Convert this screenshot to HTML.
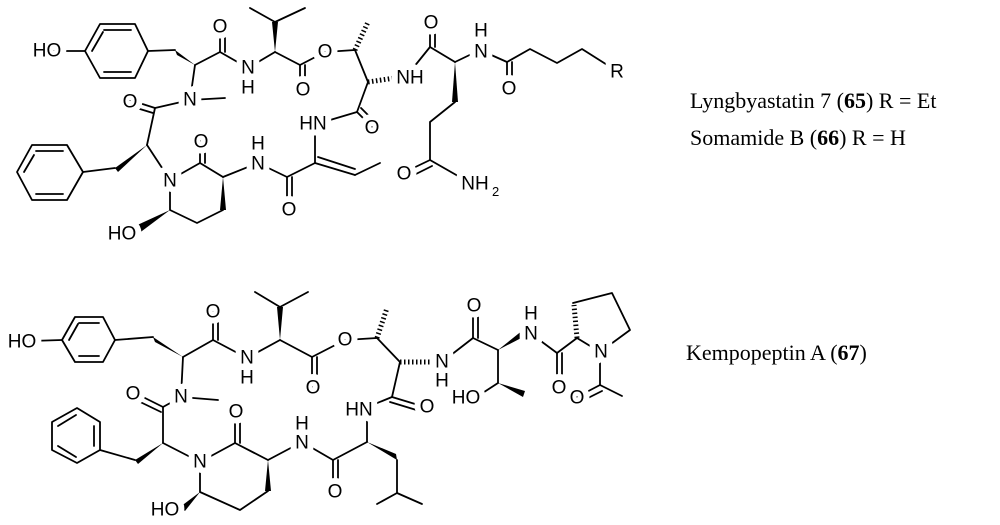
<!DOCTYPE html>
<html><head><meta charset="utf-8"><style>
html,body{margin:0;padding:0;background:#fff;}
svg{display:block;}
.b{stroke:#000;stroke-width:1.8;fill:none;stroke-linecap:round;stroke-linejoin:round;}
.h{stroke:#000;stroke-width:5;stroke-dasharray:1.5,2.5;fill:none;}
.a2{font-family:"Liberation Sans",sans-serif;font-size:13px;fill:#000;}
.t{font-family:"Liberation Serif",serif;font-size:22px;fill:#000;}
</style></head><body>
<svg width="1000" height="525" viewBox="0 0 1000 525" xmlns="http://www.w3.org/2000/svg">
<defs>
<g id="labels">
<text x="47" y="51">HO</text>
<text x="220" y="27">O</text>
<text x="248" y="68">N</text><text x="248" y="88">H</text>
<text x="303" y="90">O</text>
<text x="325" y="52">O</text>
<text x="190" y="100">N</text>
<text x="130" y="102">O</text>
<text x="170" y="181">N</text>
<text x="201" y="142">O</text>
<text x="258" y="164">N</text><text x="258" y="144">H</text>
<text x="289" y="210">O</text>
<text x="313" y="124">HN</text>
<text x="372" y="128">O</text>
<text x="410" y="78">NH</text>
<text x="431" y="23">O</text>
<text x="404" y="174">O</text>
<text x="475" y="184">NH</text>
<text x="481" y="52">N</text><text x="481" y="31">H</text>
<text x="509" y="89">O</text>
<text x="617" y="72">R</text>
<text x="122" y="234">HO</text>
<text x="22" y="342">HO</text>
<text x="213" y="312">O</text>
<text x="247" y="358">N</text><text x="247" y="378">H</text>
<text x="313" y="388">O</text>
<text x="345" y="340">O</text>
<text x="442" y="362">N</text><text x="442" y="381">H</text>
<text x="427" y="407">O</text>
<text x="359" y="410">HN</text>
<text x="335" y="492">O</text>
<text x="474" y="306">O</text>
<text x="531" y="334">N</text><text x="531" y="314">H</text>
<text x="466" y="398">HO</text>
<text x="559" y="388">O</text>
<text x="601" y="352">N</text>
<text x="577" y="398">O</text>
<text x="181" y="397">N</text>
<text x="133" y="394">O</text>
<text x="200" y="462">N</text>
<text x="236" y="412">O</text>
<text x="302" y="443">N</text><text x="302" y="424">H</text>
<text x="165" y="510">HO</text>
</g>
</defs>
<!-- ===== TOP STRUCTURE ===== -->
<g class="b">
<polygon points="85,51 100,24 135,24 148,51 135,78 100,78"/>
<polyline points="104,30 131,30"/><polyline points="104,72 131,72"/><polyline points="92,51 103,32"/>
<line x1="45" y1="51" x2="85" y2="51"/>
<line x1="148" y1="51" x2="175" y2="50"/>
<line x1="195" y1="65" x2="220" y2="52"/>
<line x1="220" y1="52" x2="220" y2="28"/><line x1="225" y1="52" x2="225" y2="30"/>
<line x1="220" y1="52" x2="248" y2="68"/>
<line x1="248" y1="68" x2="275" y2="52"/>
<line x1="275" y1="22" x2="250" y2="8"/><line x1="275" y1="22" x2="305" y2="8"/>
<line x1="275" y1="52" x2="300" y2="65"/>
<line x1="300" y1="65" x2="300" y2="90"/><line x1="305" y1="65" x2="305" y2="88"/>
<line x1="300" y1="65" x2="325" y2="52"/>
<line x1="325" y1="52" x2="355" y2="50"/>
<line x1="195" y1="65" x2="190" y2="100"/>
<line x1="190" y1="100" x2="225" y2="98"/>
<line x1="190" y1="100" x2="155" y2="108"/>
<line x1="155" y1="108" x2="130" y2="100"/><line x1="153" y1="113" x2="130" y2="106"/>
<line x1="155" y1="108" x2="147" y2="145"/>
<line x1="115" y1="168" x2="83" y2="172"/>
<polygon points="17,172 32,145 67,145 83,172 67,200 32,200"/>
<line x1="36" y1="151" x2="63" y2="151"/><line x1="36" y1="194" x2="63" y2="194"/><line x1="24" y1="172" x2="34" y2="155"/>
<line x1="147" y1="145" x2="170" y2="180"/>
<polyline points="170,180 200,163 223,177"/>
<polyline points="223,210 197,223 170,210 170,180"/>
<line x1="200" y1="163" x2="200" y2="140"/><line x1="205" y1="163" x2="205" y2="142"/>
<line x1="223" y1="177" x2="258" y2="163"/>
<line x1="258" y1="163" x2="287" y2="177"/>
<line x1="287" y1="177" x2="287" y2="208"/><line x1="292" y1="177" x2="292" y2="206"/>
<line x1="287" y1="177" x2="315" y2="163"/>
<line x1="315" y1="163" x2="315" y2="125"/>
<line x1="315" y1="163" x2="355" y2="175"/><line x1="318" y1="157" x2="355" y2="169"/>
<line x1="355" y1="175" x2="380" y2="163"/>
<line x1="320" y1="123" x2="357" y2="112"/>
<line x1="357" y1="112" x2="372" y2="127"/><line x1="361" y1="108" x2="375" y2="122"/>
<line x1="357" y1="112" x2="368" y2="82"/>
<line x1="368" y1="82" x2="355" y2="50"/>
<line x1="405" y1="78" x2="430" y2="47"/>
<line x1="430" y1="47" x2="430" y2="23"/><line x1="435" y1="47" x2="435" y2="25"/>
<line x1="430" y1="47" x2="455" y2="62"/>
<polyline points="455,102 430,122 430,160"/>
<line x1="430" y1="160" x2="405" y2="172"/><line x1="432" y1="166" x2="408" y2="178"/>
<line x1="430" y1="160" x2="465" y2="180"/>
<line x1="455" y1="62" x2="480" y2="50"/>
<line x1="480" y1="50" x2="507" y2="62"/>
<line x1="507" y1="62" x2="507" y2="88"/><line x1="512" y1="62" x2="512" y2="86"/>
<polyline points="507,62 530,49 557,63 582,49 612,68"/>
</g>
<g fill="#000">
<polygon points="175,50 195,65 177,55"/>
<polygon points="275,52 272,22 278,22"/>
<polygon points="147,145 115,168 118,172"/>
<polygon points="223,177 220,210 226,210"/>
<polygon points="170,210 133,227 138,234"/>
<polygon points="455,62 452,102 458,102"/>
</g>
<line class="h" x1="355" y1="50" x2="368" y2="22"/>
<line class="h" x1="368" y1="82" x2="395" y2="78"/>

<!-- ===== BOTTOM STRUCTURE ===== -->
<g class="b">
<line x1="30" y1="341" x2="62" y2="340"/>
<polygon points="62,340 75,317 103,317 115,340 103,362 75,362"/>
<line x1="79" y1="323" x2="99" y2="323"/><line x1="79" y1="356" x2="99" y2="356"/><line x1="69" y1="340" x2="78" y2="324"/>
<line x1="115" y1="340" x2="153" y2="337"/>
<line x1="183" y1="357" x2="213" y2="340"/>
<line x1="213" y1="340" x2="213" y2="312"/><line x1="218" y1="340" x2="218" y2="314"/>
<line x1="213" y1="340" x2="247" y2="358"/>
<line x1="247" y1="358" x2="280" y2="340"/>
<line x1="280" y1="307" x2="255" y2="292"/><line x1="280" y1="307" x2="308" y2="292"/>
<line x1="280" y1="340" x2="312" y2="357"/>
<line x1="312" y1="357" x2="312" y2="387"/><line x1="317" y1="357" x2="317" y2="385"/>
<line x1="312" y1="357" x2="345" y2="340"/>
<line x1="345" y1="340" x2="377" y2="338"/>
<line x1="377" y1="338" x2="400" y2="362"/>
<line x1="400" y1="362" x2="392" y2="397"/>
<line x1="392" y1="397" x2="425" y2="407"/><line x1="390" y1="402" x2="423" y2="412"/>
<line x1="392" y1="397" x2="360" y2="410"/>
<line x1="367" y1="410" x2="367" y2="442"/>
<line x1="367" y1="442" x2="333" y2="460"/>
<line x1="333" y1="460" x2="333" y2="490"/><line x1="338" y1="460" x2="338" y2="488"/>
<line x1="333" y1="460" x2="302" y2="442"/>
<line x1="397" y1="460" x2="397" y2="493"/>
<line x1="397" y1="493" x2="377" y2="504"/><line x1="397" y1="493" x2="422" y2="504"/>
<line x1="442" y1="362" x2="473" y2="338"/>
<line x1="473" y1="338" x2="473" y2="307"/><line x1="478" y1="338" x2="478" y2="309"/>
<line x1="473" y1="338" x2="498" y2="350"/>
<line x1="498" y1="350" x2="498" y2="383"/>
<line x1="498" y1="383" x2="478" y2="396"/>
<line x1="530" y1="333" x2="557" y2="353"/>
<line x1="557" y1="353" x2="557" y2="387"/><line x1="562" y1="353" x2="562" y2="385"/>
<line x1="557" y1="353" x2="577" y2="338"/>
<polyline points="573,303 612,293 630,330 600,352 577,338"/>
<line x1="600" y1="352" x2="600" y2="385"/>
<line x1="600" y1="385" x2="577" y2="397"/><line x1="602" y1="391" x2="580" y2="402"/>
<line x1="600" y1="385" x2="622" y2="396"/>
<line x1="183" y1="357" x2="181" y2="397"/>
<line x1="181" y1="397" x2="218" y2="400"/>
<line x1="181" y1="397" x2="163" y2="407"/>
<line x1="163" y1="407" x2="135" y2="393"/><line x1="161" y1="412" x2="134" y2="399"/>
<line x1="163" y1="407" x2="163" y2="443"/>
<line x1="135" y1="460" x2="100" y2="450"/>
<polygon points="77,408 100,422 100,450 77,463 52,450 52,422"/>
<line x1="94" y1="426" x2="94" y2="446"/><line x1="58" y1="426" x2="76" y2="415"/><line x1="58" y1="446" x2="76" y2="457"/>
<line x1="163" y1="443" x2="200" y2="462"/>
<polyline points="200,462 235,443 268,460"/>
<polyline points="268,491 240,510 200,492 200,462"/>
<line x1="235" y1="443" x2="235" y2="413"/><line x1="240" y1="443" x2="240" y2="415"/>
<line x1="268" y1="460" x2="302" y2="442"/>
</g>
<g fill="#000">
<polygon points="153,337 183,357 155,342"/>
<polygon points="280,340 277,307 283,307"/>
<polygon points="367,442 397,460 396,454"/>
<polygon points="498,350 527,335 523,330"/>
<polygon points="498,383 523,397 525,391"/>
<polygon points="163,443 135,460 138,464"/>
<polygon points="268,460 265,491 271,491"/>
<polygon points="200,492 180,507 185,511"/>
</g>
<line class="h" x1="377" y1="338" x2="387" y2="308"/>
<line class="h" x1="400" y1="362" x2="433" y2="362"/>
<line class="h" x1="577" y1="338" x2="574" y2="305"/>

<g font-family="Liberation Sans, sans-serif" font-size="19" text-anchor="middle" dominant-baseline="central" fill="#fff" stroke="#fff" stroke-width="12" stroke-linejoin="round"><use href="#labels"/></g>
<g font-family="Liberation Sans, sans-serif" font-size="19" text-anchor="middle" dominant-baseline="central" fill="#000" stroke="none"><use href="#labels"/></g>
<text class="a2" x="492" y="196">2</text>

<text class="t" x="690" y="108">Lyngbyastatin 7 (<tspan font-weight="bold">65</tspan>) R = Et</text>
<text class="t" x="690" y="145">Somamide B (<tspan font-weight="bold">66</tspan>) R = H</text>
<text class="t" x="686" y="360">Kempopeptin A (<tspan font-weight="bold">67</tspan>)</text>
</svg>
</body></html>
